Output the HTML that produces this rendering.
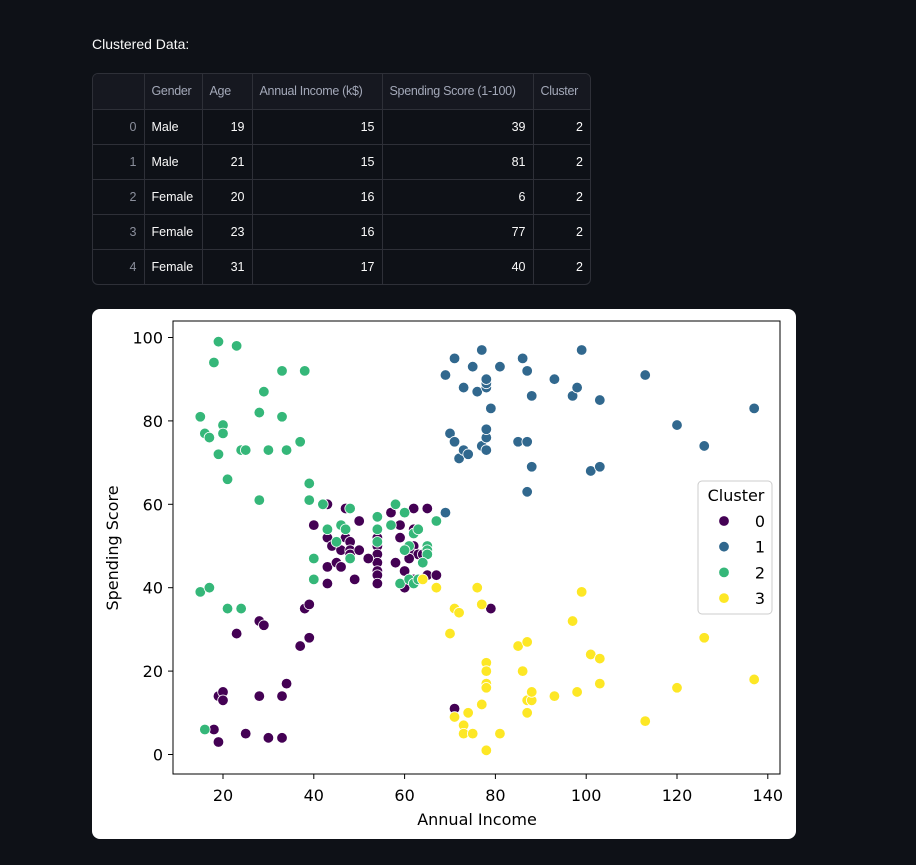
<!DOCTYPE html>
<html><head><meta charset="utf-8">
<style>
body{margin:0;background:#0e1117;width:916px;height:865px;overflow:hidden;font-family:"Liberation Sans",sans-serif;position:relative}
#title{position:absolute;left:92px;top:36px;color:#fafafa;font-size:14px}
#tbl{position:absolute;left:92px;top:73px;width:499px;height:212px;border:1px solid #2e3038;border-radius:6px;overflow:hidden;box-sizing:border-box}
table{border-collapse:collapse;width:100%;font-size:12.5px;color:#fafafa;table-layout:fixed}
td,th{border:1px solid #2e3038;height:35px;padding:0 7px;box-sizing:border-box;white-space:nowrap;overflow:hidden}
th{font-weight:normal;color:#a3a8b8;text-align:left;background:#161820;letter-spacing:-0.3px}
td.n{text-align:right}
td.i{text-align:right;color:#8b8f9c}
tr:first-child th{border-top:none} tr:last-child td{border-bottom:none}
td:first-child,th:first-child{border-left:none} td:last-child,th:last-child{border-right:none}
#card{position:absolute;left:92px;top:309px;width:704px;height:530px;background:#fff;border-radius:8px}
svg{position:absolute;left:0;top:0}
</style></head><body>
<div id="title">Clustered Data:</div>
<div id="tbl">
<table>
<colgroup><col style="width:51px"><col style="width:58px"><col style="width:50px"><col style="width:130px"><col style="width:151px"><col></colgroup>
<tr><th></th><th>Gender</th><th>Age</th><th>Annual Income (k$)</th><th>Spending Score (1-100)</th><th>Cluster</th></tr>
<tr><td class="i">0</td><td>Male</td><td class="n">19</td><td class="n">15</td><td class="n">39</td><td class="n">2</td></tr>
<tr><td class="i">1</td><td>Male</td><td class="n">21</td><td class="n">15</td><td class="n">81</td><td class="n">2</td></tr>
<tr><td class="i">2</td><td>Female</td><td class="n">20</td><td class="n">16</td><td class="n">6</td><td class="n">2</td></tr>
<tr><td class="i">3</td><td>Female</td><td class="n">23</td><td class="n">16</td><td class="n">77</td><td class="n">2</td></tr>
<tr><td class="i">4</td><td>Female</td><td class="n">31</td><td class="n">17</td><td class="n">40</td><td class="n">2</td></tr>
</table></div>
<div id="card"></div>
<svg id="chart" width="916" height="865"></svg>
<script>
const xTicks=[20,40,60,80,100,120,140];
const yTicks=[0,20,40,60,80,100];
const clusterLabels=["0","1","2","3"];
const clusterColors=["#440154","#31688e","#35b779","#fde725"];
const cluster0=[[19,14],[20,15],[20,13],[18,6],[19,3],[25,5],[30,4],[33,4],[28,14],[33,14],[34,17],[23,29],[28,32],[29,31],[37,26],[39,28],[38,35],[39,36],[71,11],[79,35],[40,55],[43,60],[43,52],[44,50],[43,45],[43,41],[45,46],[46,49],[47,59],[47,52],[48,51],[48,49],[48,48],[49,42],[50,56],[50,49],[46,45],[54,54],[54,52],[54,50],[54,48],[54,46],[54,44],[54,43],[54,41],[52,47],[57,58],[59,55],[59,52],[58,46],[60,40],[60,44],[62,59],[62,54],[62,50],[62,48],[63,48],[61,47],[64,48],[65,59],[67,56],[65,43],[67,43],[62,42]];
const cluster1=[[69,91],[71,95],[73,88],[75,93],[76,87],[77,97],[78,88],[78,89],[78,90],[79,83],[81,93],[86,95],[87,92],[88,86],[93,90],[97,86],[98,88],[99,97],[103,85],[113,91],[137,83],[120,79],[126,74],[70,77],[71,75],[72,71],[73,73],[74,72],[77,74],[78,73],[78,76],[78,78],[85,75],[87,75],[88,69],[87,63],[101,68],[103,69],[69,58]];
const cluster2=[[15,39],[17,40],[15,81],[16,77],[17,76],[18,94],[19,99],[23,98],[20,79],[20,77],[19,72],[21,66],[24,73],[25,73],[28,82],[29,87],[33,92],[38,92],[33,81],[30,73],[34,73],[37,75],[28,61],[39,65],[39,61],[21,35],[24,35],[16,6],[40,47],[40,42],[42,60],[43,54],[46,55],[47,54],[48,59],[45,51],[48,47],[54,57],[54,54],[54,51],[57,55],[58,60],[60,58],[61,50],[60,49],[62,53],[63,54],[65,50],[65,49],[65,48],[67,56],[64,46],[59,41],[61,42],[62,41],[63,42]];
const cluster3=[[76,40],[77,36],[71,35],[72,34],[70,29],[67,40],[64,42],[71,9],[73,7],[74,10],[73,5],[75,5],[78,22],[78,20],[78,17],[78,16],[77,12],[78,1],[81,5],[85,26],[87,27],[86,20],[87,13],[88,13],[88,15],[87,10],[93,14],[97,32],[99,39],[98,15],[101,24],[103,23],[103,17],[113,8],[120,16],[126,28],[137,18]];

const NS="http://www.w3.org/2000/svg";
const svg=document.getElementById('chart');
const L=173,R=780,T=321,B=774;
const xs=v=>132.2+v*4.54;
const ys=v=>754.5-v*4.17;
function mk(tag,at,parent){const e=document.createElementNS(NS,tag);for(const k in at)e.setAttribute(k,at[k]);(parent||svg).appendChild(e);return e;}
const font='"DejaVu Sans","Liberation Sans",sans-serif';
const frame=mk('rect',{x:L,y:T,width:R-L,height:B-T,fill:'none',stroke:'#000','stroke-width':1});


xTicks.forEach(v=>{
  const t=mk('line',{x1:xs(v),x2:xs(v),y1:B,y2:B+5,stroke:'#000'});
  
  
  const l=mk('text',{x:xs(v),y:B+27,'text-anchor':'middle','font-size':16,'font-family':font,fill:'#000'});
  l.textContent=v;
  
  
});
yTicks.forEach(v=>{
  const t=mk('line',{x1:L-5,x2:L,y1:ys(v),y2:ys(v),stroke:'#000'});
  
  
  const l=mk('text',{x:L-10,y:ys(v)+6,'text-anchor':'end','font-size':16,'font-family':font,fill:'#000'});
  l.textContent=v;
  
  
});
const xt=mk('text',{x:477,y:825,'text-anchor':'middle','font-size':16,'font-family':font,fill:'#000'});
xt.textContent='Annual Income';


const yt=mk('text',{x:0,y:0,'text-anchor':'middle','font-size':16,'font-family':font,fill:'#000',transform:'translate(118,548) rotate(-90)'});
yt.textContent='Spending Score';


[cluster0,cluster1,cluster2,cluster3].forEach((arr,ci)=>{
  arr.forEach(p=>{
    const c=mk('circle',{cx:xs(p[0]),cy:ys(p[1]),r:5.3,fill:clusterColors[ci],stroke:'#fff','stroke-width':0.8});
    
    
  });
});
const lg=mk('rect',{x:698,y:481,width:74,height:133,rx:4,fill:'#fff','fill-opacity':0.8,stroke:'#ccc'});


const lt=mk('text',{x:736,y:501,'text-anchor':'middle','font-size':16,'font-family':font,fill:'#000'});
lt.textContent='Cluster';


clusterLabels.forEach((s,i)=>{
  const y=521+i*25.7;
  const m=mk('circle',{cx:724,cy:y,r:5.3,fill:clusterColors[i],stroke:'#fff','stroke-width':0.8});
  
  
  const t=mk('text',{x:760,y:y+6,'text-anchor':'middle','font-size':16,'font-family':font,fill:'#000'});
  t.textContent=s;
  
  
});
</script>
</body></html>
